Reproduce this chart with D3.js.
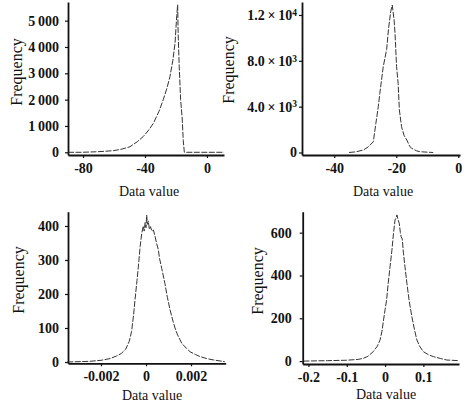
<!DOCTYPE html>
<html><head><meta charset="utf-8">
<script src="https://cdn.jsdelivr.net/npm/d3@7"></script>
<style>
body{margin:0;background:#fff;}
svg{display:block;}
text{font-family:"Liberation Serif","Times New Roman",serif;fill:#111;}
.tick text{font-weight:bold;font-size:14px;}
.domain{stroke:#111;stroke-width:1.8;}
.tick line{stroke:#111;stroke-width:1.2;}
.curve{fill:none;stroke:#333;stroke-width:1;stroke-dasharray:6,1.5;}
</style></head>
<body>
<svg id="c" width="467" height="406"></svg>
<script>
// Panel 1 (top-left)
const p1X = [-89.7, -81, -71, -60.5, -55, -49.7, -45, -41.1, -37.5, -34.6, -31, -28.2, -26, -23.9, -22, -20.6, -19.5, -18.9, -18.6, -17.9, -17.0, -16.0, -15.3, -14.6, -5, 11];
const p1Y = [0, 0, 20, 60, 120, 210, 400, 600, 850, 1100, 1550, 2000, 2400, 2870, 3500, 4150, 5200, 5600, 4500, 3250, 2000, 1300, 450, 0, 0, 0];
const p1XTicks = [-80, -40, 0];
const p1XTickLabels = ["-80", "-40", "0"];
const p1YTicks = [0, 1000, 2000, 3000, 4000, 5000];
const p1YTickLabels = ["0", "1\u2009000", "2\u2009000", "3\u2009000", "4\u2009000", "5\u2009000"];

// Panel 2 (top-right)
const p2X = [-35.2, -33, -30.6, -29, -27.4, -26.6, -25.8, -25.3, -24.2, -23.1, -22.5, -21.8, -21.3, -20.7, -20.4, -19.9, -19.4, -19.0, -18.3, -17.5, -16.6, -15.6, -15.0, -13.5, -12.4, -10, -8.1];
const p2Y = [0, 60, 218, 500, 942, 2500, 4000, 5170, 7490, 9000, 10800, 12290, 12870, 11560, 10400, 7490, 6040, 3710, 2250, 1500, 1090, 506, 366, 150, 70, 30, 0];
const p2XTicks = [-40, -20, 0];
const p2XTickLabels = ["-40", "-20", "0"];
const p2YTicks = [0, 4000, 8000, 12000];
const p2YTickBase = ["0", "4.0\u2009×\u200910", "8.0\u2009×\u200910", "1.2\u2009×\u200910"];
const p2YTickExp = ["", "3", "3", "4"];

// Panel 3 (bottom-left)
const p3X = [-0.0035, -0.0025, -0.002, -0.0016, -0.0013, -0.0011, -0.0009, -0.00075, -0.00064, -0.00055, -0.00049, -0.0004, -0.00034, -0.00026, -0.00019, -0.00012, -0.00008, -0.00004, 0, 0.00003, 0.00006, 0.0001, 0.00015, 0.0002, 0.00026, 0.00033, 0.0004, 0.00047, 0.00055, 0.0006, 0.0007, 0.00084, 0.00095, 0.00107, 0.0012, 0.00129, 0.0014, 0.00159, 0.0018, 0.00196, 0.0022, 0.0024, 0.0027, 0.003, 0.0035];
const p3Y = [0, 2, 5, 10, 18, 25, 38, 60, 90, 140, 182, 240, 280, 340, 378, 400, 385, 410, 395, 432, 405, 415, 390, 398, 385, 388, 370, 349, 330, 305, 275, 231, 190, 153, 120, 100, 80, 55, 40, 30, 22, 16, 10, 6, 1];
const p3XTicks = [-0.002, 0, 0.002];
const p3XTickLabels = ["-0.002", "0", "0.002"];
const p3YTicks = [0, 100, 200, 300, 400];
const p3YTickLabels = ["0", "100", "200", "300", "400"];

// Panel 4 (bottom-right)
const p4X = [-0.213, -0.15, -0.1, -0.07, -0.057, -0.045, -0.031, -0.02, -0.013, -0.008, -0.004, 0, 0.004, 0.008, 0.013, 0.018, 0.022, 0.026, 0.029, 0.031, 0.034, 0.037, 0.04, 0.042, 0.045, 0.048, 0.052, 0.057, 0.063, 0.07, 0.077, 0.083, 0.09, 0.1, 0.113, 0.126, 0.145, 0.161, 0.193];
const p4Y = [0, 2, 4, 8, 13, 22, 44, 70, 99, 140, 192, 240, 285, 360, 441, 520, 597, 659, 670, 683, 660, 644, 600, 581, 570, 504, 440, 364, 280, 207, 145, 99, 70, 44, 30, 21, 12, 5, 2];
const p4XTicks = [-0.2, -0.1, 0, 0.1];
const p4XTickLabels = ["-0.2", "-0.1", "0", "0.1"];
const p4YTicks = [0, 200, 400, 600];
const p4YTickLabels = ["0", "200", "400", "600"];

const xTitle = "Data value";
const yTitle = "Frequency";

const svg = d3.select("#c");

const panels = [
  {xs: p1X, ys: p1Y, xd: [-89.7, 11.0], yd: [-103, 5708], xr: [68, 224], yr: [155, 2],
   xt: p1XTicks, xl: p1XTickLabels, yt: p1YTicks, yl: p1YTickLabels, ypad: 6,
   xLab: [149, 196], yLab: [22, 72]},
  {xs: p2X, ys: p2Y, xd: [-50.4, 0.55], yd: [-218, 13133], xr: [302, 460], yr: [155, 2],
   xt: p2XTicks, xl: p2XTickLabels, yt: p2YTicks, yl: p2YTickBase, ye: p2YTickExp, ypad: 2,
   xLab: [383, 196], yLab: [234, 70]},
  {xs: p3X, ys: p3Y, xd: [-0.003467, 0.003542], yd: [-3.8, 442], xr: [68, 225.7], yr: [363.3, 211.7],
   xt: p3XTicks, xl: p3XTickLabels, yt: p3YTicks, yl: p3YTickLabels, ypad: 6,
   xLab: [152, 400], yLab: [24, 280]},
  {xs: p4X, ys: p4Y, xd: [-0.215, 0.193], yd: [-13.6, 698], xr: [302.7, 459], yr: [364, 211.7],
   xt: p4XTicks, xl: p4XTickLabels, yt: p4YTicks, yl: p4YTickLabels, ypad: 8,
   xLab: [386, 399], yLab: [263, 281]}
];

panels.forEach(p => {
  const x = d3.scaleLinear().domain(p.xd).range(p.xr);
  const y = d3.scaleLinear().domain(p.yd).range(p.yr);
  const g = svg.append("g");

  const xAxis = d3.axisBottom(x).tickValues(p.xt)
    .tickFormat((d, i) => p.xl[i]).tickSizeInner(3).tickSizeOuter(0).tickPadding(5);
  g.append("g").attr("transform", `translate(0,${p.yr[0]})`).call(xAxis);

  const yAxis = d3.axisLeft(y).tickValues(p.yt)
    .tickFormat((d, i) => p.yl[i]).tickSizeInner(3).tickSizeOuter(0).tickPadding(p.ypad);
  const ya = g.append("g").attr("transform", `translate(${p.xr[0]},0)`).call(yAxis);
  if (p.ye) {
    ya.selectAll(".tick text").each(function(d, i) {
      const t = d3.select(this);
      const base = p.yl[i], exp = p.ye[i];
      t.text(null);
      t.append("tspan").text(base);
      if (exp) t.append("tspan").attr("dy", "-0.45em").attr("font-size", "9.5px").text(exp);
    });
  }

  const line = d3.line().x((d, i) => x(p.xs[i])).y(d => y(d));
  g.append("path").attr("class", "curve").attr("d", line(p.ys));

  g.append("text").attr("x", p.xLab[0]).attr("y", p.xLab[1])
    .attr("text-anchor", "middle").attr("font-size", "14px").text(xTitle);
  g.append("text").attr("transform", `translate(${p.yLab[0]},${p.yLab[1]}) rotate(-90)`)
    .attr("text-anchor", "middle").attr("font-size", "16px").text(yTitle);
});
</script>
</body></html>
